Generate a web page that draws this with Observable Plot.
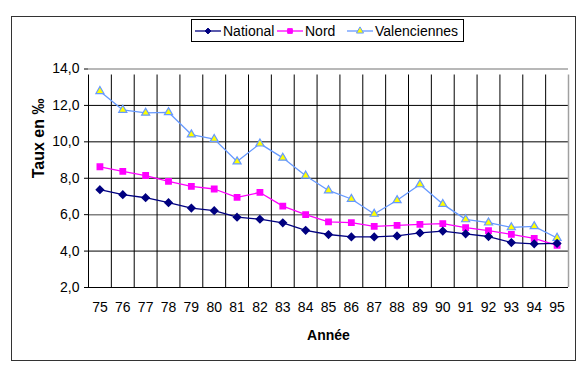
<!DOCTYPE html>
<html><head><meta charset="utf-8">
<script src="https://cdn.jsdelivr.net/npm/d3@7"></script>
<script src="https://cdn.jsdelivr.net/npm/@observablehq/plot@0.6"></script>
<style>
html,body{margin:0;padding:0;background:#fff;}
#chart{position:relative;width:588px;height:378px;}
svg{font-family:"Liberation Sans",Arial,sans-serif;}
</style></head>
<body><div id="chart"></div>
<script>
const years = [75,76,77,78,79,80,81,82,83,84,85,86,87,88,89,90,91,92,93,94,95];
const national = [7.37,7.1,6.93,6.66,6.36,6.22,5.86,5.75,5.55,5.14,4.91,4.78,4.78,4.83,5.0,5.1,4.95,4.8,4.47,4.4,4.42];
const nord = [8.63,8.38,8.15,7.83,7.55,7.41,6.95,7.22,6.47,6.0,5.6,5.56,5.36,5.41,5.47,5.51,5.29,5.12,4.92,4.7,4.32];
const valenciennes = [12.78,11.75,11.59,11.62,10.4,10.15,8.92,9.9,9.12,8.14,7.33,6.86,6.04,6.79,7.66,6.58,5.74,5.56,5.3,5.36,4.72];
const yTicks = [2,4,6,8,10,12,14];
const seriesNames = ["National","Nord","Valenciennes"];

const rows = (vals) => years.map((y,i)=>({year:y, v:vals[i]}));
const boundaries = d3.range(years.length+1).map(i => years[0]-0.5+i);
const inner = boundaries.slice(1,-1);
const FONT = '"Liberation Sans", Arial, sans-serif';

const plot = Plot.plot({
  width: 588, height: 378,
  marginLeft: 88, marginRight: 20, marginTop: 68.5, marginBottom: 91,
  style: {fontFamily: FONT, fontSize: "14px", color: "#000", background: "#fff"},
  x: {domain: [boundaries[0], boundaries[boundaries.length-1]], axis: null},
  y: {domain: [2,14], axis: null},
  marks: [
    Plot.ruleY([4,8,10,12], {stroke:"#000", strokeWidth:1}),
    Plot.ruleY([6], {stroke:"#808080", strokeWidth:1.5}),
    Plot.ruleY([14], {stroke:"#a0a0a0", strokeWidth:1.5}),
    Plot.ruleX(inner, {y1:2, y2:14, stroke:"#000", strokeWidth:1, insetBottom:-6}),
    Plot.ruleX([boundaries[0]], {y1:2, y2:14, stroke:"#000", strokeWidth:1, insetBottom:-6}),
    Plot.ruleX([boundaries[boundaries.length-1]], {y1:2, y2:14, stroke:"#a0a0a0", strokeWidth:1.5, insetBottom:-6}),
    Plot.ruleY([2], {stroke:"#000", strokeWidth:1}),
    Plot.axisY({ticks: yTicks, tickSize: 4, tickPadding: 5, tickFormat: d => d.toFixed(1).replace(".", ","), fontSize: 14, stroke:"#000", label: null}),
    Plot.axisX({ticks: years, tickSize: 0, tickPadding: 15, tickFormat: d => String(d), fontSize: 14, label: null}),
    Plot.line(rows(valenciennes), {x:"year", y:"v", stroke:"#6699ff", strokeWidth:1.3}),
    Plot.line(rows(nord), {x:"year", y:"v", stroke:"#ff00ff", strokeWidth:1.3}),
    Plot.line(rows(national), {x:"year", y:"v", stroke:"#000080", strokeWidth:1.3}),
    Plot.dot(rows(valenciennes), {x:"year", y:"v", symbol:"triangle", r:3, fill:"#ffff00", stroke:"#6699ff", strokeWidth:1.2}),
    Plot.dot(rows(nord), {x:"year", y:"v", symbol:"square", r:3, fill:"#ff00ff", stroke:"#ff00ff"}),
    Plot.dot(rows(national), {x:"year", y:"v", symbol:"diamond2", r:3.2, fill:"#000080", stroke:"#000080"}),
    Plot.text(["Année"], {frameAnchor:"bottom", lineAnchor:"middle", dy: 48, fontWeight:"bold", fontSize: 14, fill:"#000"}),
    Plot.text(["Taux en ‰"], {frameAnchor:"left", dx: -50, rotate: -90, fontWeight:"bold", fontSize: 16, fill:"#000"})
  ]
});
document.getElementById("chart").appendChild(plot);

// outer border and legend
const svg = d3.select(plot);
svg.append("rect").attr("x",11.5).attr("y",16.5).attr("width",564).attr("height",344)
  .attr("fill","none").attr("stroke","#333").attr("stroke-width",1);
const lg = svg.append("g").attr("text-anchor","start");
lg.append("rect").attr("x",191.5).attr("y",19.5).attr("width",272).attr("height",22)
  .attr("fill","#fff").attr("stroke","#000");
const items = [
  {name: seriesNames[0], x:195, color:"#000080", sym:d3.symbolDiamond2, fill:"#000080", size:22},
  {name: seriesNames[1], x:277, color:"#ff00ff", sym:d3.symbolSquare, fill:"#ff00ff", size:22},
  {name: seriesNames[2], x:347, color:"#6699ff", sym:d3.symbolTriangle, fill:"#ffff00", size:22}
];
items.forEach(it => {
  lg.append("line").attr("x1",it.x).attr("x2",it.x+26).attr("y1",31).attr("y2",31).attr("stroke",it.color).attr("stroke-width",1.3);
  lg.append("path").attr("d", d3.symbol(it.sym, it.size)()).attr("transform",`translate(${it.x+13},31)`)
    .attr("fill",it.fill).attr("stroke",it.color);
  lg.append("text").attr("x",it.x+28).attr("y",31).attr("dy","0.36em").attr("font-size",14)
    .attr("text-anchor","start").attr("fill","#000")
    .attr("font-family",FONT).text(it.name);
});
</script></body></html>
